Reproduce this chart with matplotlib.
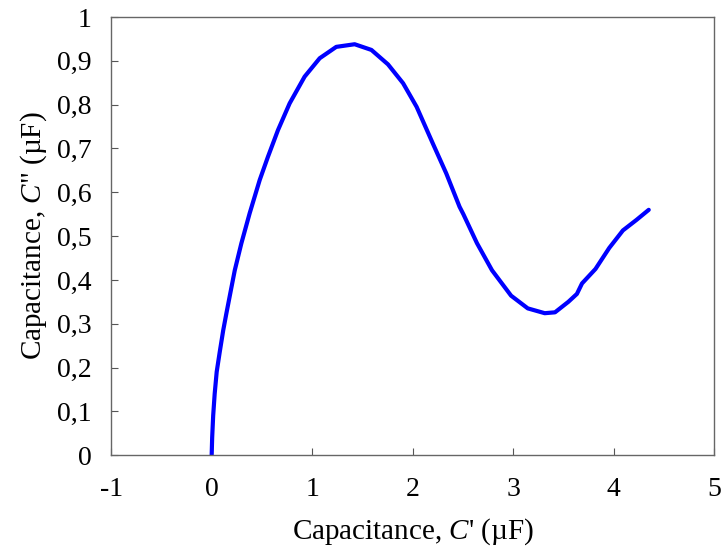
import matplotlib
matplotlib.use("Agg")
import matplotlib.pyplot as plt
from matplotlib.ticker import FuncFormatter

# Cole-Cole style plot: C' vs C''
c_real = [0.0, 0.005, 0.015, 0.03, 0.05, 0.08, 0.115, 0.146, 0.19, 0.23, 0.295,
          0.378, 0.478, 0.56, 0.66, 0.776, 0.925, 1.075, 1.24, 1.423, 1.59, 1.755,
          1.905, 2.04, 2.20, 2.335, 2.467, 2.505, 2.64, 2.79, 2.98, 3.146, 3.315,
          3.417, 3.55, 3.635, 3.686, 3.82, 3.957, 4.093, 4.228, 4.35]
c_imag = [0.0, 0.04, 0.09, 0.14, 0.19, 0.235, 0.285, 0.323, 0.375, 0.422, 0.483,
          0.552, 0.628, 0.681, 0.742, 0.803, 0.864, 0.906, 0.932, 0.938, 0.925,
          0.892, 0.849, 0.795, 0.712, 0.643, 0.567, 0.550, 0.484, 0.422, 0.364,
          0.335, 0.324, 0.326, 0.350, 0.368, 0.392, 0.425, 0.473, 0.513, 0.537, 0.560]

x_ticks = [-1, 0, 1, 2, 3, 4, 5]
y_ticks = [0, 0.1, 0.2, 0.3, 0.4, 0.5, 0.6, 0.7, 0.8, 0.9, 1.0]

plt.rcParams["font.family"] = "Liberation Serif"
plt.rcParams["mathtext.fontset"] = "custom"
plt.rcParams["mathtext.rm"] = "Liberation Serif"
plt.rcParams["mathtext.it"] = "Liberation Serif:italic"

fig = plt.figure(figsize=(7.22, 5.51), dpi=100)
ax = fig.add_axes([0.154, 0.174, 0.835, 0.795])

ax.plot(c_real, c_imag, color="#0000ff", linewidth=3.0, solid_joinstyle="round",
        solid_capstyle="round")

ax.set_xlim(-1, 5)
ax.set_ylim(0, 1)
ax.set_xticks(x_ticks)
ax.set_yticks(y_ticks)


def comma_fmt(v, pos):
    s = f"{v:g}"
    return s.replace(".", ",")


ax.xaxis.set_major_formatter(FuncFormatter(comma_fmt))
ax.yaxis.set_major_formatter(FuncFormatter(comma_fmt))
ax.tick_params(direction="in", length=5, color="#555555", labelsize=20)
ax.tick_params(axis="x", pad=16)
ax.tick_params(axis="y", pad=14)

for spine in ax.spines.values():
    spine.set_color("#666666")
    spine.set_linewidth(1.0)

ax.set_xlabel("Capacitance, $C$' (\u00b5F)", fontsize=21, labelpad=10)
ax.set_ylabel("Capacitance, $C$\" (\u00b5F)", fontsize=21, labelpad=6)

fig.savefig("out.png", dpi=100)
